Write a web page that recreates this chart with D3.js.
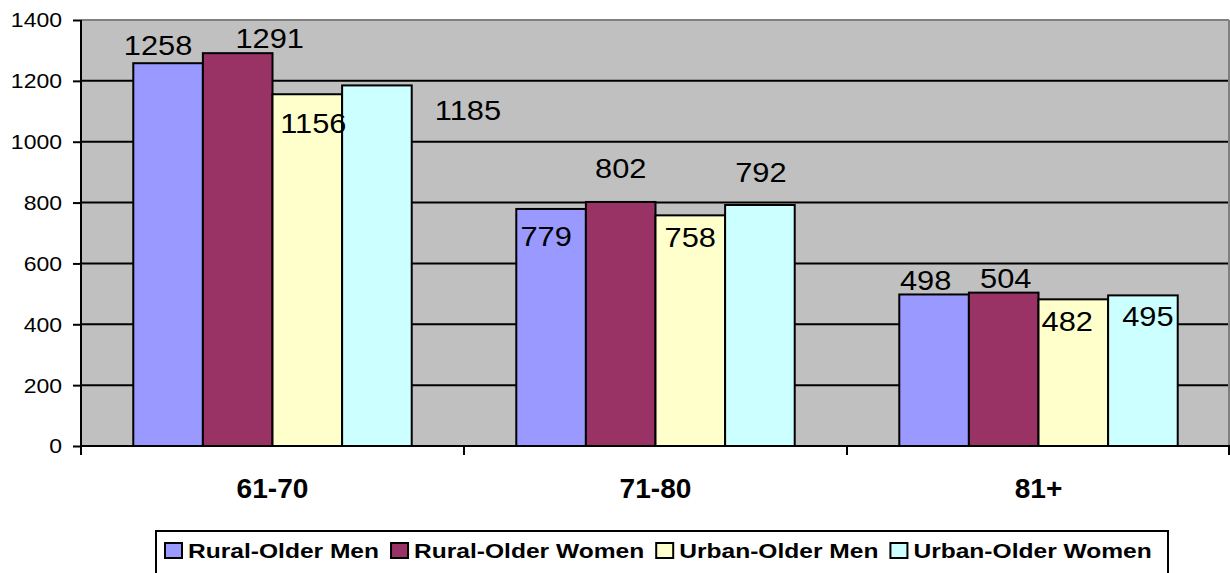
<!DOCTYPE html>
<html>
<head>
<meta charset="utf-8">
<script src="https://cdn.jsdelivr.net/npm/d3@7"></script>
<style>
  html, body { margin: 0; padding: 0; background: #fff; }
  svg { display: block; font-family: "Liberation Sans", Arial, sans-serif; }
</style>
</head>
<body>
<svg id="chart" width="1230" height="573"></svg>
<script>
// ---- data ----
const categories = ["61-70", "71-80", "81+"];
const seriesNames = ["Rural-Older Men", "Rural-Older Women", "Urban-Older Men", "Urban-Older Women"];
const ruralMen = [1258, 779, 498];
const ruralWomen = [1291, 802, 504];
const urbanMen = [1156, 758, 482];
const urbanWomen = [1185, 792, 495];
const yTicks = [0, 200, 400, 600, 800, 1000, 1200, 1400];

// ---- styling ----
const colors = ["#9999FF", "#993366", "#FFFFCC", "#CCFFFF"];
// label nudges (dx, dy) relative to top-centre of each bar, per series per category
const labelNudge = [
  [[-10, -8], [-5, 37], [-8.5, -4.5]],
  [[32, -5], [0, -24], [2, -5]],
  [[6, 39], [0, 32], [-6, 32]],
  [[91, 35], [1, -23], [5, 31]]
];

const seriesValues = [ruralMen, ruralWomen, urbanMen, urbanWomen];
const svg = d3.select("#chart");
const mLeft = 81, mRight = 1230, mTop = 20, mBottom = 446;

const x0 = d3.scaleBand().domain(categories).range([mLeft, mRight]).paddingInner(0.273).paddingOuter(0.1365);
const x1 = d3.scaleBand().domain(d3.range(seriesNames.length)).range([0, x0.bandwidth()]).padding(0);
const y = d3.scaleLinear().domain([0, 1400]).range([mBottom, mTop]);

// plot background
svg.append("rect").attr("x", mLeft).attr("y", mTop).attr("width", mRight - mLeft - 1).attr("height", mBottom - mTop)
  .attr("fill", "#C0C0C0");
svg.append("line").attr("x1", mLeft).attr("x2", mRight - 1).attr("y1", mTop).attr("y2", mTop)
  .attr("stroke", "#808080").attr("stroke-width", 2);
svg.append("line").attr("x1", mRight - 1).attr("x2", mRight - 1).attr("y1", mTop).attr("y2", mBottom)
  .attr("stroke", "#808080").attr("stroke-width", 2);

// gridlines
svg.append("g").selectAll("line").data(yTicks.filter(t => t > 0 && t < 1400)).join("line")
  .attr("x1", mLeft).attr("x2", mRight - 2)
  .attr("y1", d => y(d)).attr("y2", d => y(d))
  .attr("stroke", "#000").attr("stroke-width", 2);

// bars
const groups = svg.append("g").selectAll("g").data(categories).join("g")
  .attr("transform", d => `translate(${x0(d)},0)`);
groups.selectAll("rect").data((c, ci) => seriesValues.map((vals, si) => ({ si, ci, v: vals[ci] })))
  .join("rect")
  .attr("x", d => x1(d.si)).attr("width", x1.bandwidth())
  .attr("y", d => y(d.v)).attr("height", d => y(0) - y(d.v))
  .attr("fill", d => colors[d.si]).attr("stroke", "#000").attr("stroke-width", 2);

// y axis
const yAxis = svg.append("g").attr("transform", `translate(${mLeft},0)`)
  .call(d3.axisLeft(y).tickValues(yTicks).tickSize(8).tickPadding(0).tickFormat(d3.format("d")));
yAxis.select(".domain").attr("stroke", "#000").attr("stroke-width", 2).attr("d", `M0,${mTop}V${mBottom}`);
yAxis.selectAll(".tick line").attr("stroke", "#000").attr("stroke-width", 2);
yAxis.selectAll(".tick text")
  .attr("x", null).attr("dy", null)
  .attr("font-size", 20).attr("fill", "#000").attr("font-family", "Liberation Sans, Arial, sans-serif")
  .attr("text-anchor", "end").attr("dominant-baseline", "central")
  .attr("transform", "translate(-19,0) scale(1.15,1)");

// x axis
const xAxis = svg.append("g").attr("transform", `translate(0,${mBottom})`);
xAxis.append("line").attr("x1", mLeft).attr("x2", mRight).attr("y1", 0).attr("y2", 0)
  .attr("stroke", "#000").attr("stroke-width", 2);
const boundaries = categories.map(c => x0(c) - x0.step() * x0.paddingInner() / 2)
  .concat([x0(categories[categories.length - 1]) + x0.bandwidth() + x0.step() * x0.paddingInner() / 2]);
xAxis.selectAll("line.tk").data(boundaries).join("line").attr("class", "tk")
  .attr("x1", d => Math.min(d, mRight - 1)).attr("x2", d => Math.min(d, mRight - 1))
  .attr("y1", 0).attr("y2", 9).attr("stroke", "#000").attr("stroke-width", 2);
xAxis.selectAll("text").data(categories).join("text")
  .attr("transform", d => `translate(${x0(d) + x0.bandwidth() / 2},52) scale(1.04,1)`)
  .attr("text-anchor", "middle").attr("font-size", 27).attr("font-weight", "bold").attr("fill", "#000")
  .text(d => d);

// data labels
const labelData = [];
seriesValues.forEach((vals, si) => vals.forEach((v, ci) => labelData.push({ si, ci, v })));
svg.append("g").selectAll("text").data(labelData).join("text")
  .attr("transform", d => {
    const cx = x0(categories[d.ci]) + x1(d.si) + x1.bandwidth() / 2 + labelNudge[d.si][d.ci][0];
    const cy = y(d.v) + labelNudge[d.si][d.ci][1];
    return `translate(${cx},${cy}) scale(1.1,1)`;
  })
  .attr("text-anchor", "middle").attr("font-size", 28).attr("fill", "#000")
  .text(d => d.v);

// legend
const legend = svg.append("g");
legend.append("rect").attr("x", 156).attr("y", 531).attr("width", 1012).attr("height", 60)
  .attr("fill", "#fff").attr("stroke", "#000").attr("stroke-width", 2);
const legendScale = 1.17;
let lx = 165;
seriesNames.forEach((name, i) => {
  legend.append("rect").attr("x", lx).attr("y", 543).attr("width", 17).attr("height", 15)
    .attr("fill", colors[i]).attr("stroke", "#000").attr("stroke-width", 2);
  const t = legend.append("text")
    .attr("transform", `translate(${lx + 23},558) scale(${legendScale},1)`)
    .attr("font-size", 21).attr("font-weight", "bold").attr("fill", "#000").text(name);
  const w = t.node().getComputedTextLength() * legendScale;
  lx = lx + 23 + w + 12;
});
</script>
</body>
</html>
